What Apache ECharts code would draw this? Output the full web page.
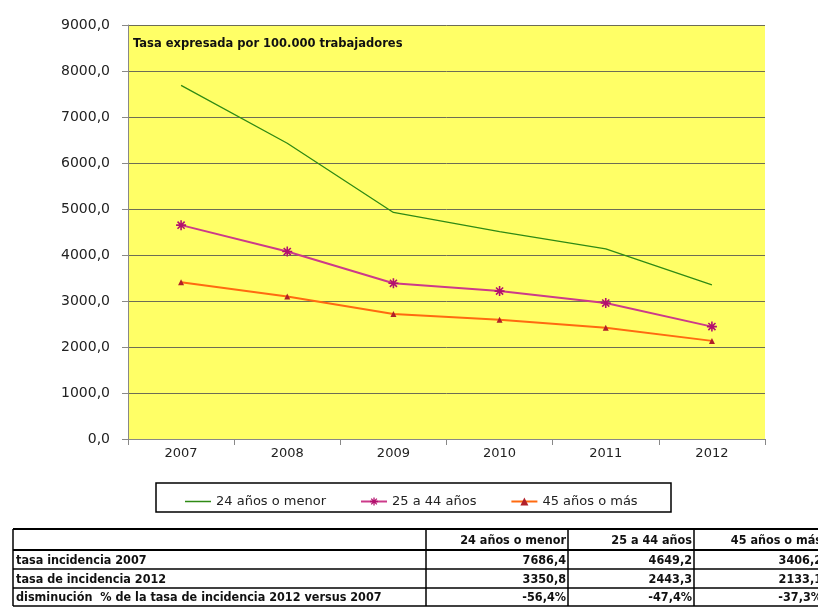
<!DOCTYPE html>
<html>
<head>
<meta charset="utf-8">
<script src="https://cdn.jsdelivr.net/npm/echarts@6/dist/echarts.min.js"></script>
<style>
	html, body { margin: 0; padding: 0; background: #fff; }
	#container { width: 818px; height: 607px; }
</style>
</head>
<body>
<div id="container"></div>
<script>
// datos del grafico
var years = ['2007', '2008', '2009', '2010', '2011', '2012'];
var seriesNames = ['24 años o menor', '25 a 44 años', '45 años o más'];
var menor24 = [7686.4, 6430, 4925, 4510, 4135, 3350.8];
var de25a44 = [4649.2, 4075, 3385, 3215, 2955, 2443.3];
var mas45 = [3406.2, 3100, 2715, 2590, 2420, 2133.1];

// tabla inferior
var rowLabels = ['tasa incidencia 2007', 'tasa de incidencia 2012', 'disminución  % de la tasa de incidencia 2012 versus 2007'];
var declines = ['-56,4%', '-47,4%', '-37,3%'];
var chartNote = 'Tasa expresada por 100.000 trabajadores';

var font = 'DejaVu Sans';
var asterisk = 'path://M-0.8,-5L0.8,-5L0.8,5L-0.8,5Z M-5,-0.8L5,-0.8L5,0.8L-5,0.8Z M-4.1,-3L-3,-4.1L4.1,3L3,4.1Z M3,-4.1L4.1,-3L-3,4.1L-4.1,3Z';
// linea sola para la leyenda (sin marcador)
var plainLine = 'path://M0,0L26,0L26,0Z M0,4.3L26,4.3L26,5.7L0,5.7Z M0,10L26,10L26,10Z';

function fmt(v) { return v.toFixed(1).replace('.', ','); }

// tabla con graphic
var colX = [13, 426, 568, 694, 824];
var rowY = [529, 550, 569, 588, 606];
var allSeries = [menor24, de25a44, mas45];
var cells = [[''].concat(seriesNames)];
cells.push([rowLabels[0]].concat(allSeries.map(function (s) { return fmt(s[0]); })));
cells.push([rowLabels[1]].concat(allSeries.map(function (s) { return fmt(s[s.length - 1]); })));
cells.push([rowLabels[2]].concat(declines));

var graphics = [];
rowY.forEach(function (y, i) {
	graphics.push({
		type: 'line', silent: true,
		shape: { x1: colX[0], y1: y, x2: colX[colX.length - 1], y2: y },
		style: { stroke: '#000', lineWidth: i < 2 ? 2 : 1.5 }
	});
});
colX.forEach(function (x) {
	graphics.push({
		type: 'line', silent: true,
		shape: { x1: x, y1: rowY[0], x2: x, y2: rowY[rowY.length - 1] },
		style: { stroke: '#000', lineWidth: 1.5 }
	});
});
cells.forEach(function (row, r) {
	row.forEach(function (txt, c) {
		if (!txt) return;
		var right = c > 0;
		graphics.push({
			type: 'text', silent: true,
			x: right ? colX[c + 1] - 2 : colX[0] + 3,
			y: (rowY[r] + rowY[r + 1]) / 2 + 1,
			style: {
				text: txt, fill: '#111', font: 'bold 12.5px "DejaVu Sans Condensed", ' + font,
				align: right ? 'right' : 'left', verticalAlign: 'middle'
			}
		});
	});
});
// caja de la leyenda
graphics.push({
	type: 'rect', silent: true, z: -1,
	shape: { x: 156, y: 483, width: 515, height: 29 },
	style: { fill: '#fff', stroke: '#000', lineWidth: 1.5 }
});
// nota dentro del area
graphics.push({
	type: 'text', silent: true,
	x: 133, y: 44,
	style: { text: chartNote, fill: '#111', font: 'bold 11.5px ' + font, verticalAlign: 'middle' }
});

var dom = document.getElementById('container');
var myChart = echarts.init(dom);
var option = {
	animation: false,
	backgroundColor: '#fff',
	grid: {
		left: 128, top: 25, right: 53, bottom: 168,
		show: true, backgroundColor: '#FFFF66', borderWidth: 0
	},
	legend: {
		left: 180, top: 490,
		itemWidth: 26, itemHeight: 10, itemGap: 34,
		textStyle: { fontFamily: font, fontSize: 13, color: '#222' },
		data: [{ name: seriesNames[0], icon: plainLine }, seriesNames[1], seriesNames[2]]
	},
	xAxis: {
		type: 'category',
		data: years,
		boundaryGap: true,
		axisLine: { lineStyle: { color: '#888', width: 1 } },
		axisTick: { show: true, interval: 0, length: 6, lineStyle: { color: '#888' } },
		axisLabel: { color: '#222', fontFamily: font, fontSize: 13, margin: 8 }
	},
	yAxis: {
		type: 'value',
		min: 0, max: 9000, interval: 1000,
		axisLine: { show: true, lineStyle: { color: '#888', width: 1 } },
		axisTick: { show: true, length: 6, lineStyle: { color: '#888' } },
		axisLabel: { color: '#222', fontFamily: font, fontSize: 14, margin: 18, formatter: fmt },
		splitLine: { lineStyle: { color: '#6d6d55', width: 1 } }
	},
	series: [{
		name: seriesNames[0],
		type: 'line',
		data: menor24,
		symbol: 'none',
		lineStyle: { color: '#2f8a14', width: 1.3 },
		itemStyle: { color: '#2f8a14' }
	}, {
		name: seriesNames[1],
		type: 'line',
		data: de25a44,
		symbol: asterisk,
		symbolSize: 10,
		lineStyle: { color: '#cc3a8a', width: 2 },
		itemStyle: { color: '#b3106e' }
	}, {
		name: seriesNames[2],
		type: 'line',
		data: mas45,
		symbol: 'triangle',
		symbolSize: 6,
		lineStyle: { color: '#ff6a10', width: 2 },
		itemStyle: { color: '#b0202a' }
	}],
	graphic: graphics
};
myChart.setOption(option, true);
</script>
</body>
</html>
